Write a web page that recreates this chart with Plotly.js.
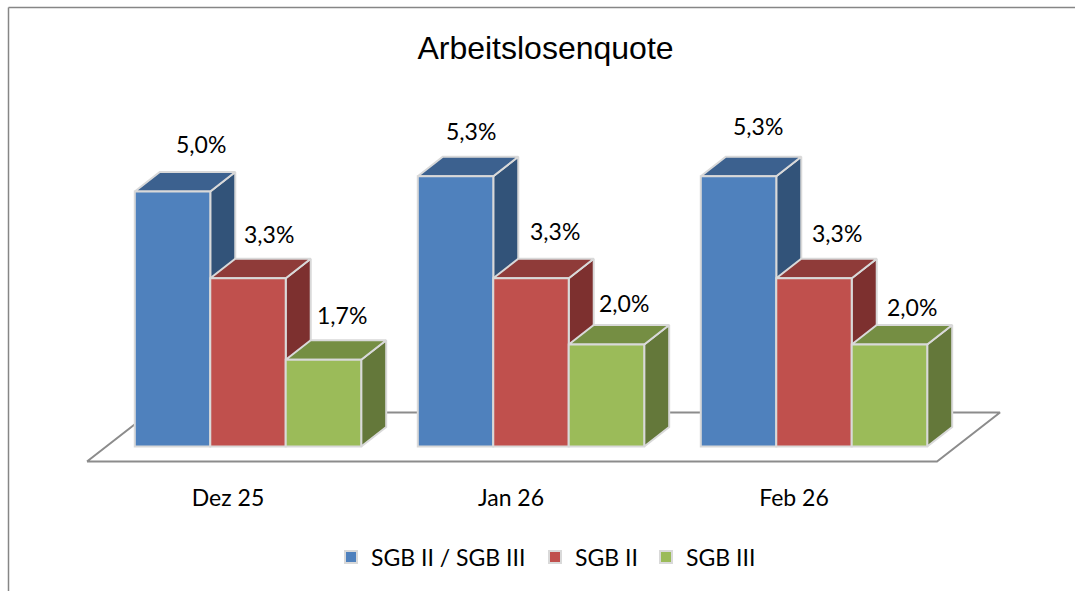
<!DOCTYPE html>
<html><head><meta charset="utf-8">
<script src="https://cdn.plot.ly/plotly-3.0.1.min.js"></script>
<style>html,body{margin:0;padding:0;background:#fff}#c{width:1075px;height:591px}</style>
</head><body><div id="c"></div>
<script>
const categories = ["Dez 25", "Jan 26", "Feb 26"];
const seriesNames = ["SGB II / SGB III", "SGB II", "SGB III"];
const sgb2und3 = [5.0, 5.3, 5.3];
const sgb2 = [3.3, 3.3, 3.3];
const sgb3 = [1.7, 2.0, 2.0];
const titleText = "Arbeitslosenquote";

const seriesValues = [sgb2und3, sgb2, sgb3];
const frontColors = ["#4F81BD", "#C0504D", "#9BBB59"];
const topColors = ["#3C618F", "#8F3B39", "#758E43"];
const sideColors = ["#325379", "#7D302F", "#64783A"];
const edge = "#D9D9D9";
const W = 1075, H = 591, plotBottom = 480;
const unitX = 283, unitY = 51, originX = 248, originY = 446.5;
const barW = 0.8 / 3, dx = 25 / unitX, dy = 19.5 / unitY;
const px = p => (p - originX) / unitX;
const py = p => (originY - p) / unitY;
const xRange = [px(0), px(W)], yRange = [py(plotBottom), py(0)];
const labelFont = "Lato, Carlito, sans-serif";
const fontSize = 23;

// label shifts relative to the top centre of each bar [series][category]
const labelShift = [
  [[28.5, 48], [15.5, 45.7], [19.5, 49.7]],
  [[20.5, 44.7], [23.5, 47.7], [22.5, 45.7]],
  [[19, 45], [18, 42], [22.5, 38]]
];
const tickShift = -20 / unitX;
const legendLeft = [331, 535, 646];

const poly = (xs, ys, fill) => ({
  type: "scatter", mode: "lines", x: xs, y: ys, fill: "toself", fillcolor: fill,
  line: {color: edge, width: 2}, hoverinfo: "skip", showlegend: false, xaxis: "x", yaxis: "y"
});

const traces = [];
// floor slab
const floor = poly(
  [px(87), px(937), px(1000), px(150), px(87)],
  [py(461.5), py(461.5), py(412.5), py(412.5), py(461.5)], "#FFFFFF");
floor.line = {color: "#8C8C8C", width: 2};
traces.push(floor);

// depth faces, drawn back to front
categories.forEach((c, g) => {
  seriesValues.forEach((vals, s) => {
    const l = g + (s - 1.5) * barW, r = l + barW, v = vals[g];
    traces.push(poly([r, r + dx, r + dx, r, r], [0, dy, v + dy, v, 0], sideColors[s]));
    traces.push(poly([l, r, r + dx, l + dx, l], [v, v, v + dy, v + dy, v], topColors[s]));
  });
});

// front faces: real bars on an overlaid subplot with identical scales
const legendKeys = ["legend", "legend2", "legend3"];
seriesValues.forEach((vals, s) => {
  traces.push({
    type: "bar", name: seriesNames[s], x: categories.map((c, i) => i), y: vals,
    marker: {color: frontColors[s], line: {color: edge, width: 2}},
    xaxis: "x2", yaxis: "y2", hoverinfo: "skip", showlegend: true, legend: legendKeys[s]
  });
});

const annotations = [];
seriesValues.forEach((vals, s) => vals.forEach((v, g) => {
  annotations.push({
    xref: "x", yref: "y", x: g + (s - 1) * barW, y: v,
    text: v.toFixed(1).replace(".", ",") + "%", showarrow: false,
    xanchor: "center", yanchor: "middle",
    xshift: labelShift[s][g][0], yshift: labelShift[s][g][1],
    font: {family: labelFont, size: fontSize, color: "#000"}
  });
}));

const paperY = p => (plotBottom - p) / plotBottom;
const legendOf = s => ({orientation: "h", x: legendLeft[s] / W, xanchor: "left", y: paperY(557), yanchor: "middle",
  font: {family: labelFont, size: fontSize, color: "#000"}, bgcolor: "rgba(0,0,0,0)",
  itemclick: false, itemdoubleclick: false});
const layout = {
  width: W, height: H, margin: {l: 0, r: 0, t: 0, b: H - plotBottom, pad: 0},
  paper_bgcolor: "#fff", plot_bgcolor: "rgba(0,0,0,0)",
  barmode: "group", bargap: 0.2, bargroupgap: 0,
  title: {text: titleText, font: {family: "Liberation Sans, Arial, sans-serif", size: 32, color: "#000"},
    x: 545.5 / W, xanchor: "center", xref: "paper", y: 1 - 48 / H, yanchor: "middle", yref: "container"},
  xaxis: {range: xRange, tickmode: "array", tickvals: categories.map((c, i) => i + tickShift), ticktext: categories,
    showgrid: false, zeroline: false, showline: false, ticks: "", ticklabelstandoff: 2,
    tickfont: {family: labelFont, size: fontSize, color: "#000"}, fixedrange: true},
  yaxis: {range: yRange, visible: false, showgrid: false, zeroline: false, fixedrange: true},
  xaxis2: {range: xRange, overlaying: "x", visible: false, anchor: "y2", fixedrange: true},
  yaxis2: {range: yRange, overlaying: "y", visible: false, anchor: "x2", fixedrange: true},
  legend: legendOf(0), legend2: legendOf(1), legend3: legendOf(2),
  annotations,
  shapes: [
    {type: "line", xref: "paper", yref: "paper", x0: 8.5 / W, x1: 1, y0: paperY(7.5), y1: paperY(7.5), line: {color: "#868686", width: 1.5}},
    {type: "line", xref: "paper", yref: "paper", x0: 8.5 / W, x1: 8.5 / W, y0: paperY(7.5), y1: paperY(H), line: {color: "#868686", width: 1.5}}
  ]
};
Plotly.newPlot("c", traces, layout, {displayModeBar: false});
</script></body></html>
